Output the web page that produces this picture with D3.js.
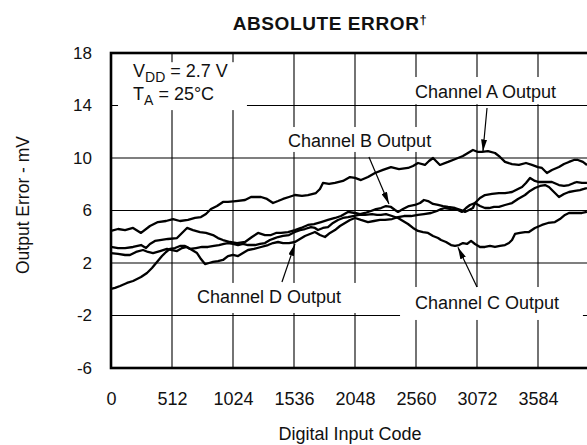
<!DOCTYPE html>
<html>
<head>
<meta charset="utf-8">
<script src="https://cdn.jsdelivr.net/npm/d3@7"></script>
<style>
  body { margin: 0; background: #fff; }
  svg { display: block; font-family: "Liberation Sans", Arial, sans-serif; }
</style>
</head>
<body>
<div id="chart"></div>
<script>
// tick values
const xTicks = [0, 512, 1024, 1536, 2048, 2560, 3072, 3584];
const yTicks = [-6, -2, 2, 6, 10, 14, 18];

// [digital input code, output error mV]
const channelA = [[0,4.44],[59,4.59],[118,4.51],[185,4.67],[252,4.29],[327,4.82],[394,5.12],[462,5.20],[520,5.35],[579,5.20],[646,5.28],[705,5.43],[755,5.50],[797,5.73],[839,6.11],[890,6.34],[940,6.65],[982,6.65],[1049,6.72],[1125,6.80],[1175,7.03],[1259,7.03],[1309,6.88],[1360,6.57],[1402,6.72],[1444,6.88],[1494,7.03],[1544,7.18],[1603,7.11],[1653,7.18],[1720,7.33],[1754,7.64],[1779,8.10],[1830,8.02],[1880,8.10],[1947,8.25],[2006,8.55],[2048,8.48],[2098,8.32],[2157,8.55],[2216,8.86],[2283,9.09],[2350,9.31],[2417,9.16],[2493,9.24],[2535,9.39],[2577,9.62],[2635,9.47],[2669,9.77],[2703,10.0],[2761,9.47],[2829,9.70],[2870,9.85],[2912,10.0],[2954,10.15],[2996,10.38],[3038,10.61],[3080,10.46],[3114,10.46],[3164,10.53],[3223,10.38],[3265,10.08],[3307,9.70],[3366,9.54],[3424,9.47],[3483,9.62],[3533,9.47],[3584,9.31],[3617,9.24],[3659,8.86],[3701,9.09],[3760,9.31],[3802,9.54],[3844,9.70],[3886,9.85],[3919,9.85],[3961,9.70],[3995,9.47]];

const channelB = [[0,3.22],[59,3.14],[118,3.14],[185,3.22],[252,3.37],[294,3.14],[327,3.45],[369,3.68],[411,3.75],[478,3.83],[554,3.90],[596,4.29],[638,4.67],[688,4.51],[747,4.36],[797,4.29],[856,4.13],[898,3.90],[940,3.75],[999,3.60],[1058,3.52],[1125,3.60],[1183,3.98],[1234,4.29],[1292,4.13],[1343,4.13],[1385,4.29],[1427,4.29],[1486,4.36],[1544,4.51],[1595,4.67],[1653,4.90],[1704,4.97],[1763,5.12],[1821,5.28],[1880,5.43],[1930,5.58],[1989,5.89],[2048,5.81],[2090,5.73],[2132,5.81],[2182,5.96],[2224,6.11],[2266,6.19],[2308,6.34],[2350,6.27],[2384,6.04],[2409,5.89],[2451,6.11],[2501,6.34],[2551,6.42],[2594,6.57],[2627,6.80],[2661,6.72],[2703,6.50],[2745,6.42],[2787,6.34],[2829,6.27],[2887,6.19],[2938,6.04],[2971,5.89],[3005,6.04],[3038,6.19],[3055,6.57],[3097,6.95],[3139,7.18],[3198,7.26],[3256,7.33],[3307,7.33],[3366,7.41],[3416,7.64],[3450,7.79],[3483,8.10],[3517,8.48],[3558,8.25],[3592,8.17],[3643,8.17],[3701,8.17],[3760,7.94],[3802,7.87],[3844,7.94],[3886,8.10],[3911,8.17],[3953,8.10],[3995,8.10]];

const channelC = [[0,0.02],[34,0.10],[76,0.25],[134,0.48],[185,0.63],[252,0.93],[302,1.24],[344,1.62],[386,2.08],[428,2.53],[462,2.84],[495,3.07],[537,3.14],[579,3.30],[621,3.30],[663,3.07],[713,3.14],[764,3.22],[814,3.22],[864,3.30],[906,3.37],[948,3.45],[982,3.52],[1024,3.45],[1066,3.37],[1108,3.45],[1150,3.37],[1209,3.37],[1251,3.45],[1292,3.52],[1334,3.75],[1376,3.90],[1402,3.98],[1444,4.06],[1494,4.13],[1544,4.36],[1586,4.51],[1628,4.59],[1678,4.74],[1712,4.67],[1737,4.51],[1779,4.67],[1821,4.74],[1863,5.05],[1905,5.28],[1947,5.43],[1989,5.50],[2031,5.58],[2081,5.66],[2132,5.66],[2191,5.73],[2233,5.66],[2266,5.66],[2308,5.73],[2359,5.58],[2409,5.43],[2451,5.20],[2493,4.97],[2535,4.67],[2577,4.44],[2619,4.36],[2661,4.29],[2703,4.06],[2745,3.90],[2770,3.75],[2812,3.60],[2854,3.37],[2887,3.30],[2921,3.37],[2954,3.52],[2988,3.45],[3022,3.68],[3055,3.45],[3097,3.22],[3139,3.22],[3181,3.30],[3223,3.22],[3265,3.30],[3307,3.37],[3340,3.52],[3366,3.75],[3391,4.21],[3433,4.29],[3475,4.36],[3508,4.36],[3558,4.67],[3617,4.90],[3668,5.05],[3726,5.12],[3768,5.35],[3810,5.66],[3844,5.81],[3894,5.81],[3953,5.81],[3995,5.89]];

const channelD = [[0,2.76],[59,2.69],[118,2.61],[159,2.61],[210,2.84],[269,2.99],[311,2.84],[353,2.76],[411,2.91],[470,3.07],[512,2.99],[554,2.91],[596,3.14],[638,3.22],[680,2.99],[722,2.76],[755,2.30],[789,1.92],[823,2.00],[856,2.08],[898,2.15],[940,2.23],[982,2.53],[1024,2.61],[1066,2.53],[1108,2.76],[1150,2.99],[1200,3.07],[1259,3.22],[1318,3.37],[1360,3.52],[1402,3.60],[1444,3.52],[1494,3.52],[1544,3.60],[1586,3.83],[1628,4.06],[1670,4.21],[1712,4.36],[1754,4.13],[1796,3.98],[1838,4.29],[1880,4.51],[1922,4.82],[1964,5.05],[2006,5.28],[2048,5.43],[2098,5.28],[2157,5.12],[2207,5.20],[2258,5.28],[2300,5.28],[2359,5.35],[2409,5.50],[2459,5.58],[2518,5.58],[2577,5.66],[2627,5.73],[2686,5.81],[2736,5.96],[2770,6.11],[2803,6.19],[2854,6.11],[2912,6.04],[2946,5.89],[2980,6.19],[3013,6.42],[3055,6.57],[3097,6.34],[3139,6.19],[3173,6.19],[3215,6.27],[3256,6.27],[3307,6.42],[3366,6.57],[3416,6.88],[3475,7.18],[3517,7.49],[3558,7.71],[3601,7.87],[3643,7.94],[3676,7.79],[3701,7.56],[3735,7.26],[3760,7.03],[3802,7.26],[3844,7.41],[3894,7.49],[3936,7.56],[3969,7.64],[3995,7.71]];

const series = [channelA, channelB, channelC, channelD];

// callout labels: text, code, mV (baseline position)
const labels = [
    ["Channel A Output", 2551, 14.57],
    ["Channel B Output", 1486, 10.84],
    ["Channel D Output", 722, -1.05],
    ["Channel C Output", 2551, -1.5]
];
// white patches behind the labels: code0, code1, mV top, mV bottom
const patches = [
    [59, 1141, 17.3, 13.65],
    [2442, 4100, 16.17, 14.1],
    [1435, 2745, 12.36, 10.46],
    [663, 2090, 0.48, -1.81],
    [2426, 3961, 0.17, -2.34]
];
// arrows: from code, from mV, tip code, tip mV
const arrows = [
    [3156, 13.81, 3122, 10.5],
    [2165, 10.08, 2333, 6.5],
    [1435, 0.55, 1544, 3.45],
    [3072, 0.17, 2912, 3.2]
];

const svgWidth = 587;
const svgHeight = 445;
const margin = { top: 53, left: 111, bottom: 77 };
const plotRight = 599;

const svg = d3.select("#chart").append("svg")
    .attr("width", svgWidth)
    .attr("height", svgHeight)
    .style("overflow", "hidden");

const xScale = d3.scaleLinear().domain([0, 4096]).range([margin.left, plotRight]);
const yScale = d3.scaleLinear().domain([-6, 18]).range([svgHeight - margin.bottom, margin.top]);

// grid
const grid = svg.append("g").attr("stroke", "#000").attr("stroke-width", 1.1);
grid.selectAll(".vg").data(xTicks.slice(1).concat([4096]))
    .enter().append("line")
    .attr("x1", d => xScale(d)).attr("x2", d => xScale(d))
    .attr("y1", yScale(18)).attr("y2", yScale(-6));
grid.selectAll(".hg").data(yTicks.slice(1, -1))
    .enter().append("line")
    .attr("x1", xScale(0)).attr("x2", xScale(4096))
    .attr("y1", d => yScale(d)).attr("y2", d => yScale(d));

// white label backgrounds cut the grid
svg.append("g").selectAll("rect").data(patches)
    .enter().append("rect")
    .attr("x", d => xScale(d[0]))
    .attr("width", d => xScale(d[1]) - xScale(d[0]))
    .attr("y", d => yScale(d[2]))
    .attr("height", d => yScale(d[3]) - yScale(d[2]))
    .attr("fill", "#fff");

// frame
svg.append("rect")
    .attr("x", xScale(0)).attr("y", yScale(18))
    .attr("width", xScale(4096) - xScale(0))
    .attr("height", yScale(-6) - yScale(18))
    .attr("fill", "none").attr("stroke", "#000").attr("stroke-width", 2.6);

// curves
const line = d3.line().x(d => xScale(d[0])).y(d => yScale(d[1]));
svg.append("g").selectAll("path").data(series)
    .enter().append("path")
    .attr("d", line)
    .attr("fill", "none")
    .attr("stroke", "#000")
    .attr("stroke-width", 2.3)
    .attr("stroke-linejoin", "round");

// arrows
svg.append("defs").append("marker")
    .attr("id", "head")
    .attr("viewBox", "0 0 12 6")
    .attr("refX", 12).attr("refY", 3)
    .attr("markerWidth", 12).attr("markerHeight", 6)
    .attr("markerUnits", "userSpaceOnUse")
    .attr("orient", "auto")
    .append("path").attr("d", "M0,0 L12,3 L0,6 Z").attr("fill", "#000");

svg.append("g").selectAll("line").data(arrows)
    .enter().append("line")
    .attr("x1", d => xScale(d[0])).attr("y1", d => yScale(d[1]))
    .attr("x2", d => xScale(d[2])).attr("y2", d => yScale(d[3]))
    .attr("stroke", "#000").attr("stroke-width", 1.2)
    .attr("marker-end", "url(#head)");

// callout labels
svg.append("g").selectAll("text").data(labels)
    .enter().append("text")
    .attr("x", d => xScale(d[1]))
    .attr("y", d => yScale(d[2]))
    .attr("font-size", "18px")
    .attr("fill", "#111")
    .text(d => d[0]);

// conditions
const cond = svg.append("text")
    .attr("x", xScale(185)).attr("y", yScale(16.17))
    .attr("font-size", "18px").attr("fill", "#111");
cond.append("tspan").text("V");
cond.append("tspan").attr("dy", 5).attr("font-size", "14px").text("DD");
cond.append("tspan").attr("dy", -5).text(" = 2.7 V");
const cond2 = svg.append("text")
    .attr("x", xScale(185)).attr("y", yScale(14.42))
    .attr("font-size", "18px").attr("fill", "#111");
cond2.append("tspan").text("T");
cond2.append("tspan").attr("dy", 5).attr("font-size", "14px").text("A");
cond2.append("tspan").attr("dy", -5).text(" = 25\u00B0C");

// axes (labels only)
const xAxis = d3.axisBottom(xScale).tickValues(xTicks).tickSize(0).tickPadding(24)
    .tickFormat(d3.format("d"));
const yAxis = d3.axisLeft(yScale).tickValues(yTicks).tickSize(0).tickPadding(19)
    .tickFormat(d => d < 0 ? "-" + Math.abs(d) : d);

const xAxisG = svg.append("g")
    .attr("transform", `translate(0, ${yScale(-6)})`)
    .call(xAxis);
const yAxisG = svg.append("g")
    .attr("transform", `translate(${margin.left}, 0)`)
    .call(yAxis);
[xAxisG, yAxisG].forEach(g => {
    g.select(".domain").remove();
    g.selectAll("text").attr("fill", "#111")
        .attr("font-family", "Liberation Sans, Arial, sans-serif");
});
xAxisG.selectAll("text").attr("font-size", "18px");
yAxisG.selectAll("text").attr("font-size", "17px");

// titles
const title = svg.append("text")
    .attr("x", 330).attr("y", 30)
    .attr("text-anchor", "middle")
    .attr("font-size", "19px").attr("font-weight", "bold")
    .attr("letter-spacing", "0.6px").attr("fill", "#111");
title.append("tspan").text("ABSOLUTE ERROR");
title.append("tspan").attr("dy", -6).attr("font-size", "13px").text("\u2020");

svg.append("text")
    .attr("x", 350).attr("y", 440)
    .attr("text-anchor", "middle")
    .attr("font-size", "18px").attr("fill", "#111")
    .text("Digital Input Code");

svg.append("text")
    .attr("transform", "translate(29, 205) rotate(-90)")
    .attr("text-anchor", "middle")
    .attr("font-size", "17.5px").attr("fill", "#111")
    .text("Output Error - mV");
</script>
</body>
</html>
